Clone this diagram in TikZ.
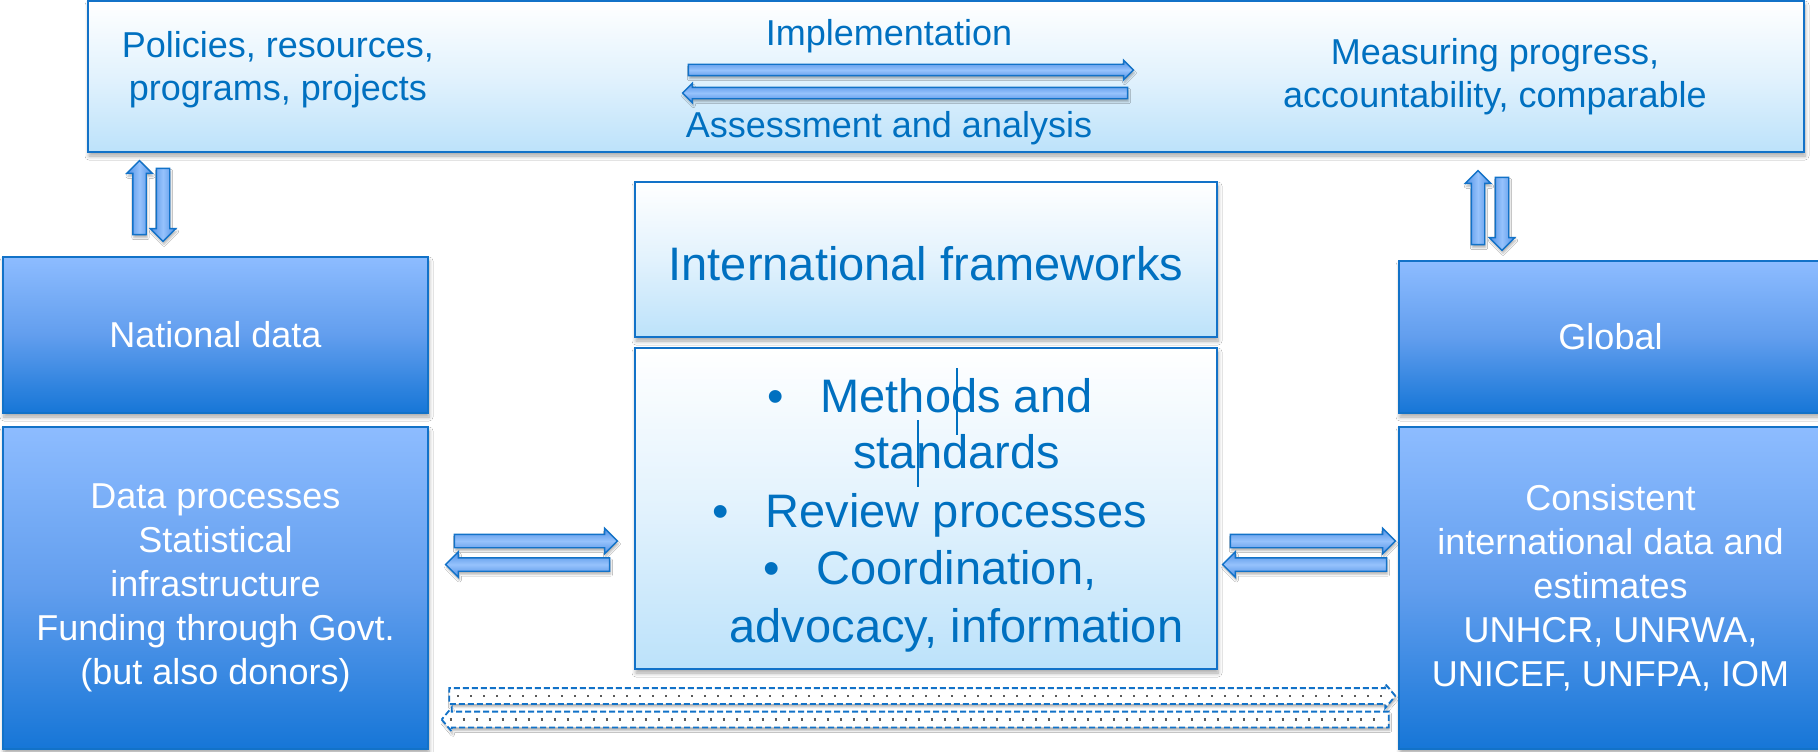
\documentclass[tikz,border=0pt]{standalone}
\usepackage{fontspec}
\setmainfont{Liberation Sans}
\usetikzlibrary{shapes.arrows,shadows.blur}
\definecolor{tblue}{RGB}{0,112,192}
\definecolor{bord}{RGB}{18,114,200}
\definecolor{lbBot}{RGB}{188,226,250}
\definecolor{lbMid}{RGB}{226,242,253}
\definecolor{dbTop}{RGB}{141,188,255}
\definecolor{dbMid}{RGB}{98,158,238}
\definecolor{dbBot}{RGB}{22,118,215}
\definecolor{arLight}{RGB}{150,194,252}
\definecolor{arDark}{RGB}{78,143,228}
\tikzset{
  shad/.style={blur shadow={shadow xshift=1pt,shadow yshift=-4pt,shadow opacity=35,shadow blur steps=6,shadow blur radius=4pt}},
  lightbox/.style={draw=bord,line width=1.5pt,top color=white,bottom color=lbBot,middle color=lbMid,inner sep=0pt,outer sep=0pt,shad},
  darkbox/.style={draw=bord,line width=1.5pt,top color=dbTop,bottom color=dbBot,middle color=dbMid,inner sep=0pt,outer sep=0pt,shad,
    text=white,align=center,font=\fontsize{36}{44}\selectfont},
  toptext/.style={text=tblue,align=center,font=\fontsize{36}{43}\selectfont,inner sep=0pt},
  midtext/.style={text=tblue,font=\fontsize{47}{57}\selectfont,inner sep=0pt},
  blockar/.style={single arrow,draw=bord,line width=1.4pt,shading=axis,top color=arDark,bottom color=arDark,middle color=arLight,
    single arrow head extend=6pt,single arrow tip angle=90,inner xsep=0pt,inner ysep=6pt,outer sep=0pt,
    blur shadow={shadow xshift=1pt,shadow yshift=-3pt,shadow opacity=30,shadow blur steps=4,shadow blur radius=2pt}},
  vertar/.style={blockar,shading angle=90,inner xsep=6pt,inner ysep=0pt},
  thinar/.style={blockar,single arrow head extend=4pt,inner ysep=5pt},
  dashar/.style={single arrow,draw=bord,line width=1.8pt,dash pattern=on 6pt off 3pt,fill=white,
    single arrow head extend=4pt,single arrow tip angle=100,inner xsep=0pt,inner ysep=7pt,outer sep=0pt,
    blur shadow={shadow xshift=1pt,shadow yshift=-3pt,shadow opacity=30,shadow blur steps=4,shadow blur radius=2pt},
    path picture={\draw[black!65,line width=2.2pt,dash pattern=on 2pt off 11pt]
      ([xshift=8pt]path picture bounding box.west) -- ([xshift=-8pt]path picture bounding box.east);}},
}
\begin{document}
\begin{tikzpicture}[x=1pt,y=-1pt]
\useasboundingbox[fill=white] (0,0) rectangle (1818,752);

% boxes
\node[lightbox,minimum width=1716pt,minimum height=151pt] (topbox) at (946,76.5) {};
\node[darkbox,minimum width=425pt,minimum height=156pt] (nat) at (215.5,335) {National data};
\node[darkbox,minimum width=425pt,minimum height=322pt] (proc) at (215.5,588)
  {Data processes\\Statistical\\infrastructure\\Funding through Govt.\\(but also donors)};
\node[darkbox,minimum width=423pt,minimum height=152pt] (glob) at (1610.5,337) {Global};
\node[darkbox,minimum width=423pt,minimum height=322pt] (cons) at (1610.5,588)
  {Consistent\\international data and\\estimates\\UNHCR, UNRWA,\\UNICEF, UNFPA, IOM};
\node[lightbox,minimum width=582pt,minimum height=155pt] (intf) at (926,259.5) {};
\node[lightbox,minimum width=582pt,minimum height=321pt] (meth) at (926,508.5) {};

% texts
\node[toptext] (pol) at (278,70) {Policies, resources,\\programs, projects};
\node[toptext] (mea) at (1495,77) {Measuring progress,\\accountability, comparable};
\node[toptext,anchor=base] (imp) at (889,46) {Implementation};
\node[toptext,anchor=base] (ass) at (889,137) {Assessment and analysis};
\node[midtext] (ift) at (926,264) {International frameworks};
\node[midtext,anchor=base] (m1) at (930,412) {\makebox[53pt][l]{\textbullet}Methods and};
\node[midtext,anchor=base] (m2) at (930,468) {\hspace*{53pt}standards};
\node[midtext,anchor=base] (m3) at (930,527) {\makebox[53pt][l]{\textbullet}Review processes};
\node[midtext,anchor=base] (m4) at (930,584) {\makebox[53pt][l]{\textbullet}Coordination,};
\node[midtext,anchor=base] (m5) at (930,642) {\hspace*{53pt}advocacy, information};

% cursor marks
\coordinate (v1a) at (957,368); \coordinate (v1b) at (957,435);
\coordinate (v2a) at (918,420); \coordinate (v2b) at (918,487);
\draw[tblue,line width=1.3pt] (v1a) -- (v1b);
\draw[tblue,line width=1.3pt] (v2a) -- (v2b);

% vertical arrows
\node[vertar,minimum height=74pt,shape border rotate=90] (lu) at (139.5,201) {};
\node[vertar,minimum height=73pt,shape border rotate=270] (ld) at (163,201.5) {};
\node[vertar,minimum height=74pt,shape border rotate=90] (ru) at (1478,211) {};
\node[vertar,minimum height=73pt,shape border rotate=270] (rd) at (1502,210.5) {};

% top arrows
\node[thinar,minimum height=445pt] (tr) at (908,70) {};
\node[thinar,minimum height=445pt,shape border rotate=180] (tl) at (908,93) {};

% horizontal arrows
\node[blockar,minimum height=163pt] (lr) at (532.5,541) {};
\node[blockar,minimum height=164pt,shape border rotate=180] (ll) at (531,564.5) {};
\node[blockar,minimum height=165pt] (rr) at (1309.5,541) {};
\node[blockar,minimum height=164pt,shape border rotate=180] (rl) at (1308,564.5) {};

% dashed arrows
\node[dashar,minimum height=946pt] (dr) at (919,696) {};
\node[dashar,minimum height=947pt,shape border rotate=180] (dl) at (918.5,719.5) {};
\end{tikzpicture}
\end{document}
